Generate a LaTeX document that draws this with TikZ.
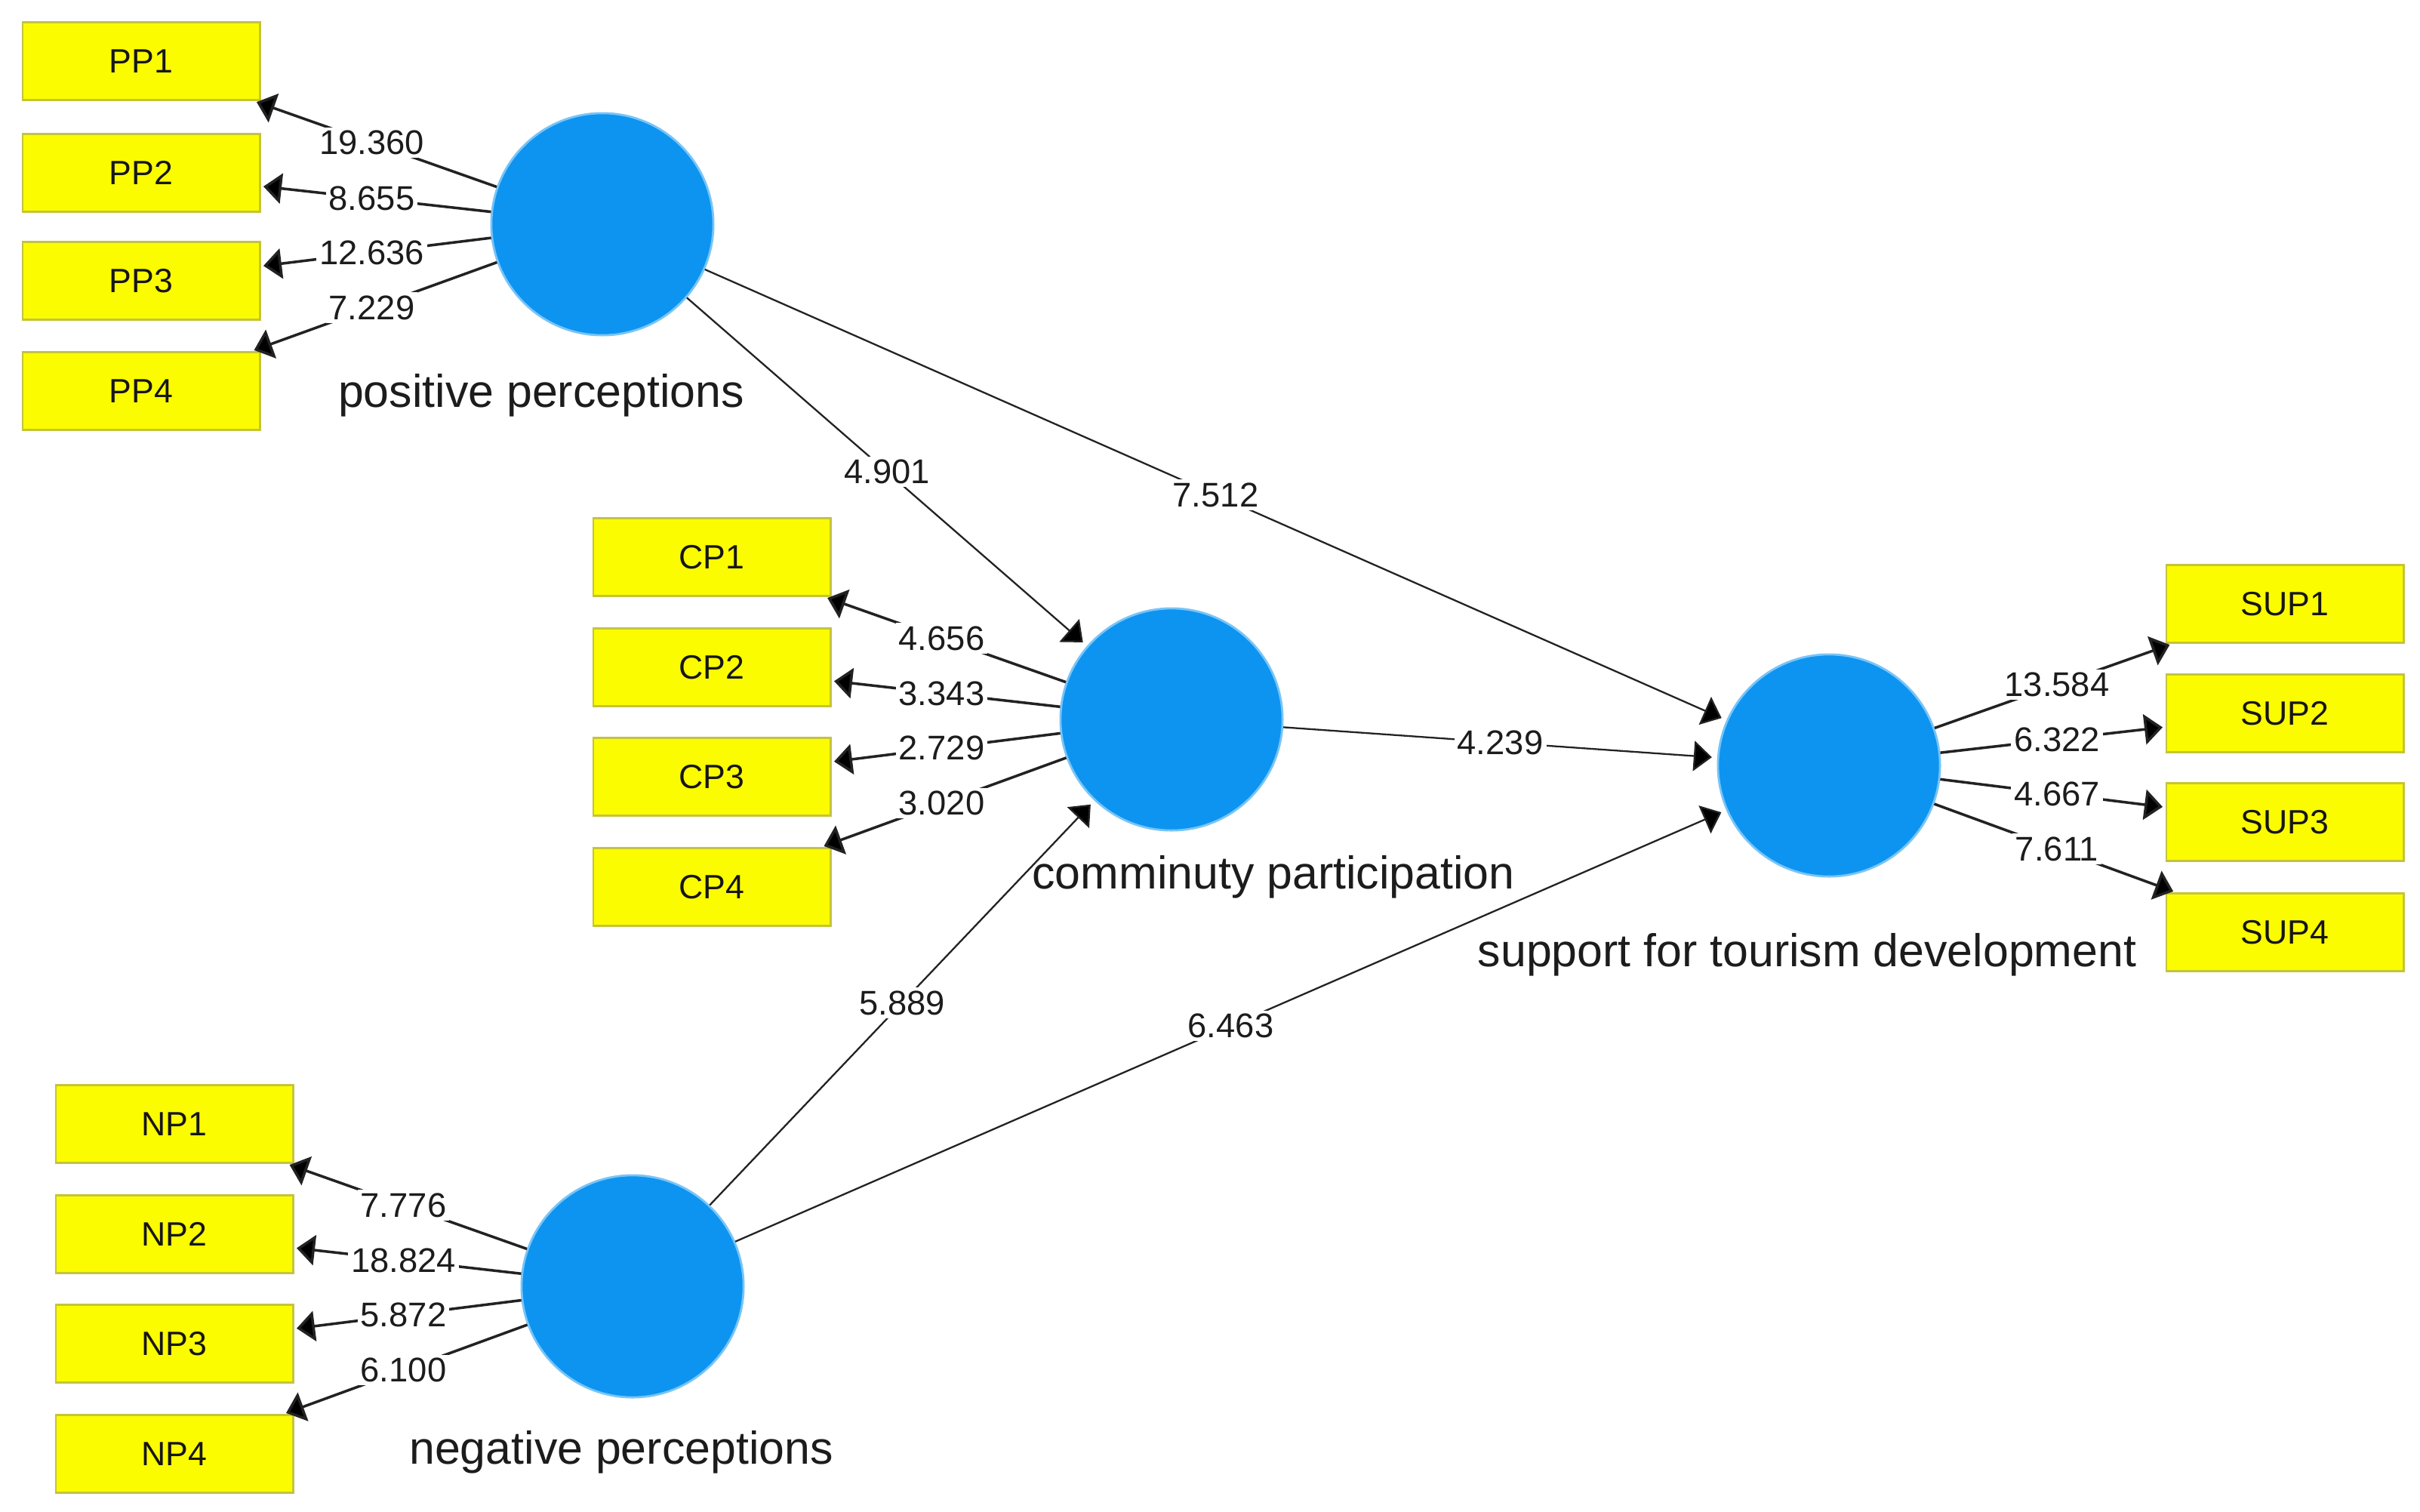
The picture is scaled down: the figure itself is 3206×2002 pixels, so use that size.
\documentclass[tikz,border=0pt]{standalone}
\usepackage{fontspec}
\setmainfont{Liberation Sans}
\usetikzlibrary{arrows.meta,calc}
\definecolor{latentblue}{RGB}{12,148,240}
\definecolor{indfill}{RGB}{252,252,0}
\definecolor{inddraw}{RGB}{196,196,60}
\definecolor{edgecol}{RGB}{34,34,34}
\definecolor{txtcol}{RGB}{28,28,28}
\begin{document}
\begin{tikzpicture}[x=0.01cm,y=-0.01cm,
  ind/.style={rectangle, fill=indfill, draw=inddraw, line width=0.8pt,
    minimum width=3.14cm, minimum height=1.03cm, inner sep=0pt,
    text=txtcol!80!black, font=\fontsize{12.7}{14}\selectfont},
  lv/.style={circle, fill=latentblue, draw=latentblue!55, line width=0.8pt,
    minimum size=2.94cm, inner sep=0pt},
  lvname/.style={text=txtcol, font=\fontsize{17.3}{20}\selectfont, inner sep=0pt},
  num/.style={fill=white, text=txtcol, inner sep=1.2pt,
    font=\fontsize{12.9}{14}\selectfont},
  meas/.style={draw=edgecol, line width=1.0pt, shorten >=1pt,
    -{Triangle[length=0.24cm,width=0.4cm,fill=black]}},
  struct/.style={draw=edgecol, line width=0.65pt, shorten >=2pt,
    -{Triangle[length=0.24cm,width=0.4cm,fill=black]}}]
\useasboundingbox (0,0) rectangle (3206,2002);
\fill[white] (0,0) rectangle (3206,2002);

% latent variables
\node[lv] (pp)  at (798,297)  {};
\node[lv] (cp)  at (1552,953) {};
\node[lv] (sup) at (2423,1014) {};
\node[lv] (np)  at (838,1704) {};

\node[lvname] (ppname)  at (717,524)   {positive perceptions};
\node[lvname] (cpname)  at (1687,1162) {comminuty participation};
\node[lvname] (supname) at (2394,1265) {support for tourism development};
\node[lvname] (npname)  at (823,1924)  {negative perceptions};

% indicators
\node[ind] (pp1) at (187,81)  {PP1};
\node[ind] (pp2) at (187,229) {PP2};
\node[ind] (pp3) at (187,372) {PP3};
\node[ind] (pp4) at (187,518) {PP4};

\node[ind] (cp1) at (943,738)  {CP1};
\node[ind] (cp2) at (943,884)  {CP2};
\node[ind] (cp3) at (943,1029) {CP3};
\node[ind] (cp4) at (943,1175) {CP4};

\node[ind] (sup1) at (3027,800)  {SUP1};
\node[ind] (sup2) at (3027,945)  {SUP2};
\node[ind] (sup3) at (3027,1089) {SUP3};
\node[ind] (sup4) at (3027,1235) {SUP4};

\node[ind] (np1) at (231,1489) {NP1};
\node[ind] (np2) at (231,1635) {NP2};
\node[ind] (np3) at (231,1780) {NP3};
\node[ind] (np4) at (231,1926) {NP4};

% structural paths
\draw[struct] (pp) -- (cp)  node[num] at ($(pp)!0.5!(cp)$)  {4.901};
\draw[struct] (pp) -- (sup) node[num] at ($(pp)!0.5!(sup)$) {7.512};
\draw[struct] (cp) -- (sup) node[num] at ($(cp)!0.5!(sup)$) {4.239};
\draw[struct] (np) -- (cp)  node[num] at ($(np)!0.5!(cp)$)  {5.889};
\draw[struct] (np) -- (sup) node[num] at ($(np)!0.5!(sup)$) {6.463};

% measurement paths
\draw[meas] (pp) -- (pp1) node[num] at ($(pp)!0.5!(pp1)$) {19.360};
\draw[meas] (pp) -- (pp2) node[num] at ($(pp)!0.5!(pp2)$) {8.655};
\draw[meas] (pp) -- (pp3) node[num] at ($(pp)!0.5!(pp3)$) {12.636};
\draw[meas] (pp) -- (pp4) node[num] at ($(pp)!0.5!(pp4)$) {7.229};

\draw[meas] (cp) -- (cp1) node[num] at ($(cp)!0.5!(cp1)$) {4.656};
\draw[meas] (cp) -- (cp2) node[num] at ($(cp)!0.5!(cp2)$) {3.343};
\draw[meas] (cp) -- (cp3) node[num] at ($(cp)!0.5!(cp3)$) {2.729};
\draw[meas] (cp) -- (cp4) node[num] at ($(cp)!0.5!(cp4)$) {3.020};

\draw[meas] (sup) -- (sup1) node[num] at ($(sup)!0.5!(sup1)$) {13.584};
\draw[meas] (sup) -- (sup2) node[num] at ($(sup)!0.5!(sup2)$) {6.322};
\draw[meas] (sup) -- (sup3) node[num] at ($(sup)!0.5!(sup3)$) {4.667};
\draw[meas] (sup) -- (sup4) node[num] at ($(sup)!0.5!(sup4)$) {7.611};

\draw[meas] (np) -- (np1) node[num] at ($(np)!0.5!(np1)$) {7.776};
\draw[meas] (np) -- (np2) node[num] at ($(np)!0.5!(np2)$) {18.824};
\draw[meas] (np) -- (np3) node[num] at ($(np)!0.5!(np3)$) {5.872};
\draw[meas] (np) -- (np4) node[num] at ($(np)!0.5!(np4)$) {6.100};
\end{tikzpicture}
\end{document}
